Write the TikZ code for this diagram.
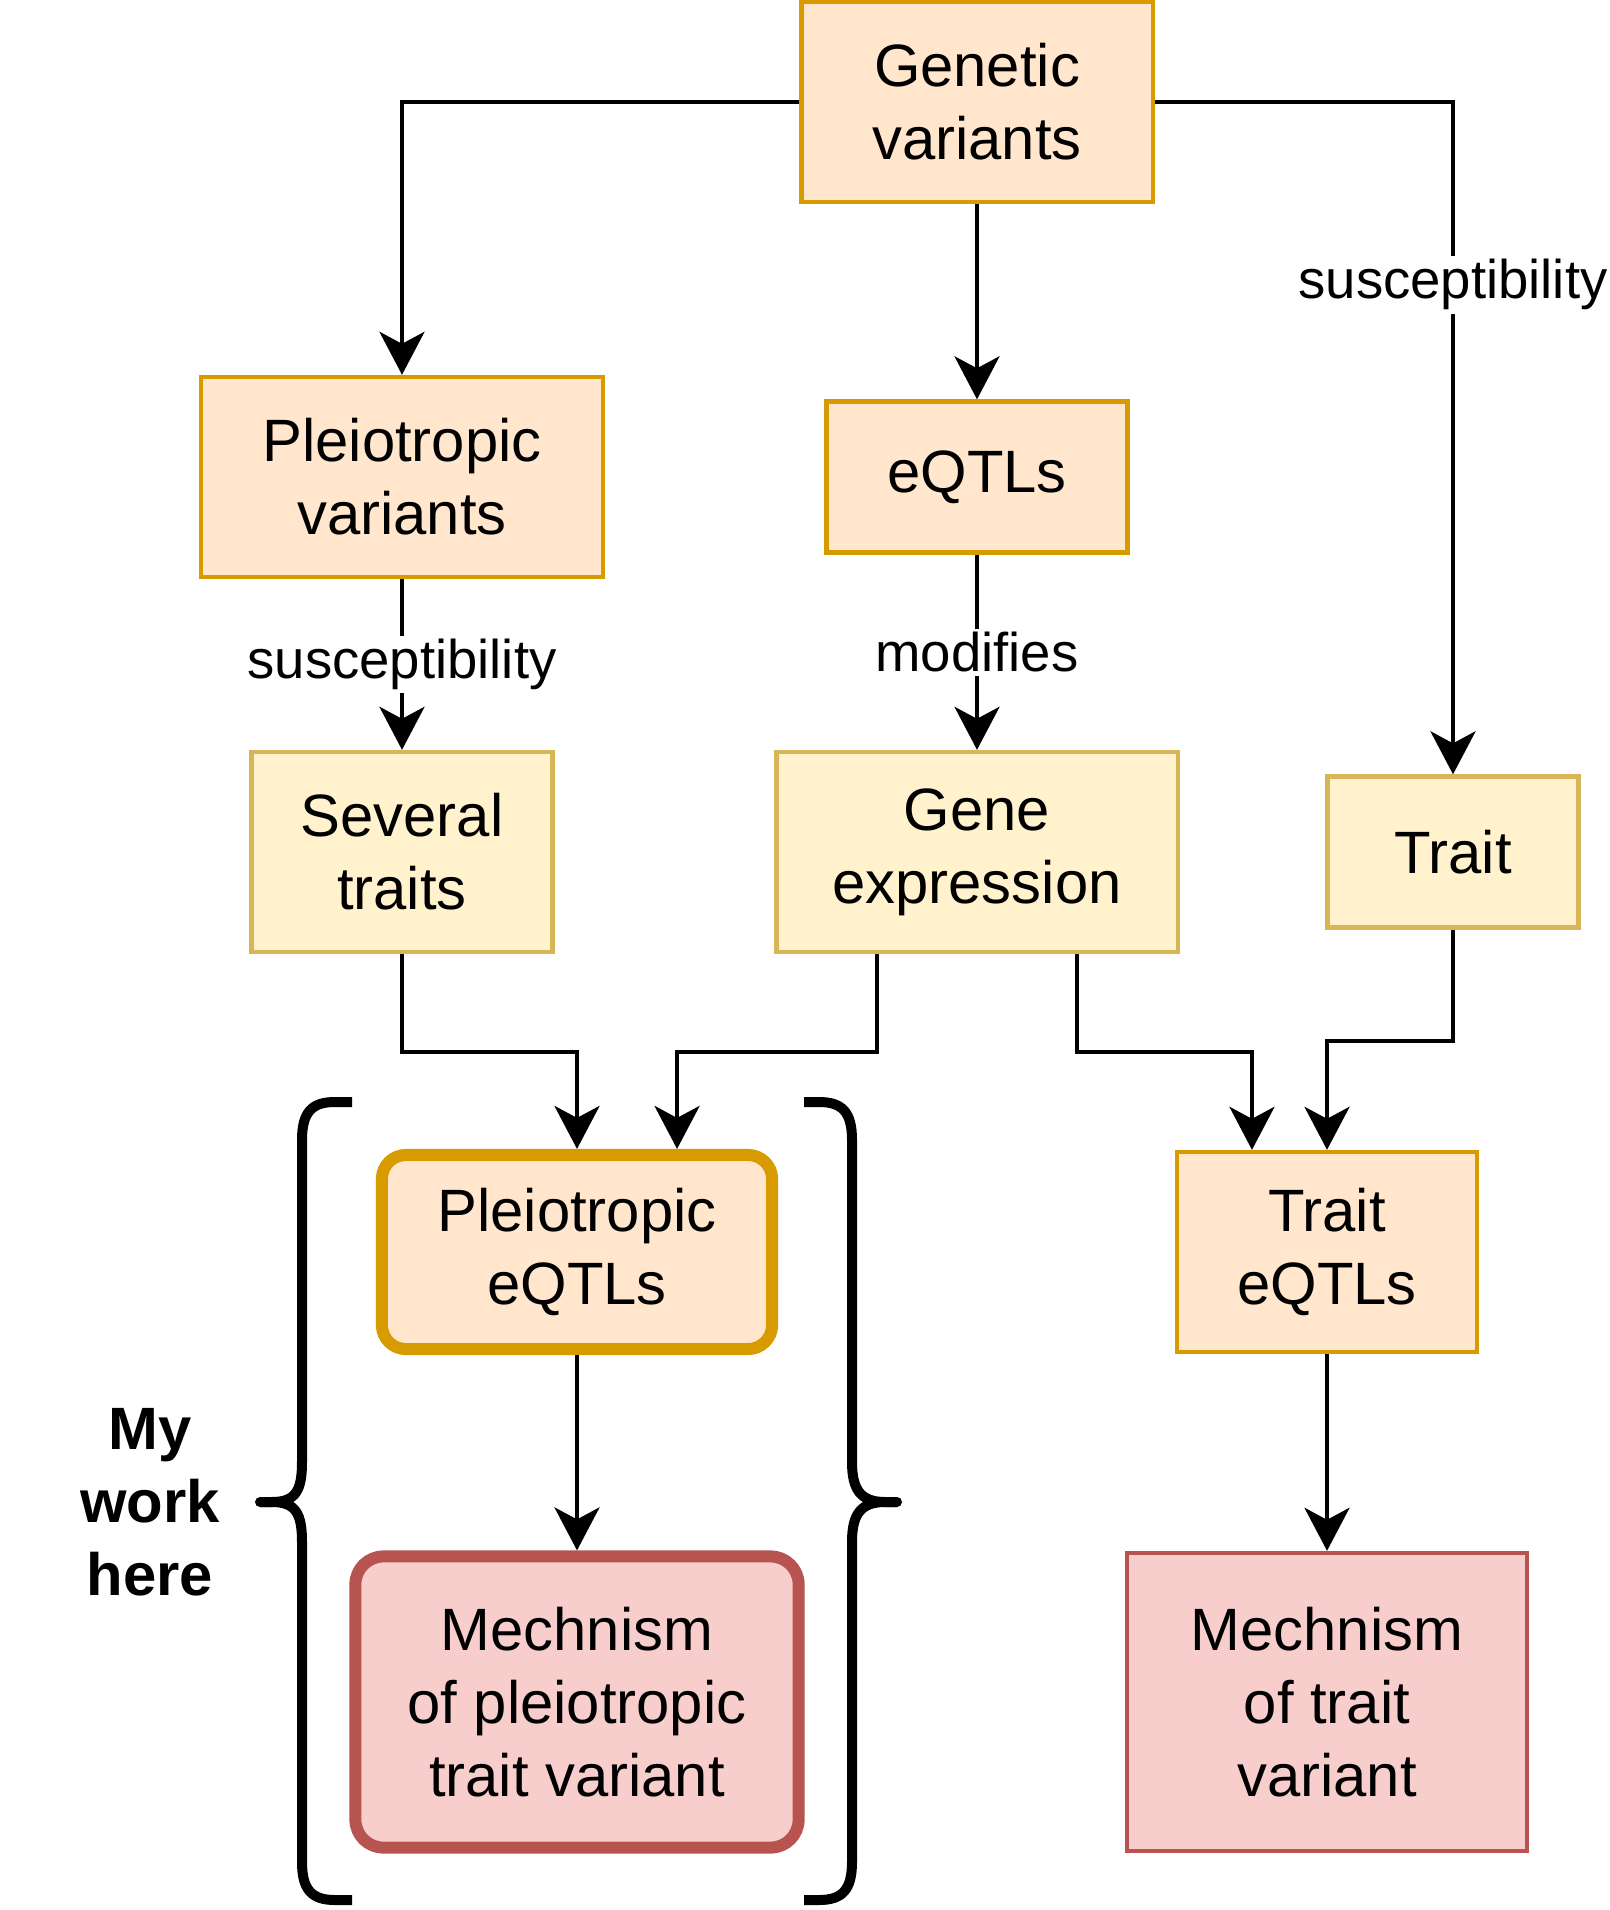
\documentclass[tikz,border=0pt]{standalone}
\usepackage{fontspec}
\setmainfont{Liberation Sans}
\usepackage{xcolor}
\usepackage{tikz}
\usetikzlibrary{arrows.meta}
\definecolor{orangefill}{HTML}{FFE6CC}
\definecolor{orangeline}{HTML}{D79B00}
\definecolor{yellowfill}{HTML}{FFF2CC}
\definecolor{yellowline}{HTML}{D6B656}
\definecolor{redfill}{HTML}{F8CECC}
\definecolor{redline}{HTML}{B85450}

\tikzset{
  box/.style={draw, line width=1.2pt, align=center, inner sep=0pt,
    font=\fontsize{17}{20.8}\selectfont},
  orangebox/.style={box, fill=orangefill, draw=orangeline},
  yellowbox/.style={box, fill=yellowfill, draw=yellowline},
  redbox/.style={box, fill=redfill, draw=redline},
  arr/.style={line width=1.1pt, -{Stealth[length=0.43cm, width=0.45cm, inset=0.12cm]}},
  lbl/.style={fill=white, inner sep=1pt, font=\fontsize{15.5}{18}\selectfont},
  curly/.style={line width=0.1cm}
}

\begin{document}
\begin{tikzpicture}[x=0.01cm, y=-0.01cm]
            \useasboundingbox (0,0) rectangle (1610,1910);

            % Boxes
            \node[orangebox, minimum width=3.51cm, minimum height=2cm] (gv) at (977,102) {Genetic\\variants};
            \node[orangebox, minimum width=4.01cm, minimum height=2cm] (pv) at (402,477) {Pleiotropic\\variants};
            \node[orangebox, minimum width=3.01cm, minimum height=1.51cm] (eqtl) at (977,477) {eQTLs};
            \node[yellowbox, minimum width=3.01cm, minimum height=2cm] (st) at (402,852) {Several\\traits};
            \node[yellowbox, minimum width=4.01cm, minimum height=2cm] (ge) at (977,852) {Gene\\expression};
            \node[yellowbox, minimum width=2.51cm, minimum height=1.51cm] (trait) at (1453,852) {Trait};
            \node[orangebox, line width=0.12cm, rounded corners=0.24cm, minimum width=3.9cm, minimum height=1.94cm] (pe) at (577,1252) {Pleiotropic\\eQTLs};
            \node[orangebox, minimum width=3cm, minimum height=2cm] (te) at (1327,1252) {Trait\\eQTLs};
            \node[redbox, line width=0.12cm, rounded corners=0.28cm, minimum width=4.43cm, minimum height=2.91cm] (mp) at (577,1702) {Mechnism\\of pleiotropic\\trait variant};
            \node[redbox, minimum width=4cm, minimum height=2.98cm] (mt) at (1327,1702) {Mechnism\\of trait\\variant};

            % Connectors
            \draw[arr] (gv.west) -| (pv.north);
            \draw[arr] (gv.east) -| node[lbl, pos=0.636] {susceptibility} (trait.north);
            \draw[arr] (gv) -- (eqtl);
            \draw[arr] (pv) -- node[lbl] {susceptibility} (st);
            \draw[arr] (eqtl) -- node[lbl] {modifies} (ge);
            \draw[arr] (st.south) -- ++(0,98) -| (pe.north);
            \draw[arr] ([xshift=-1cm]ge.south) -- ++(0,98) -| ([xshift=1cm]pe.north);
            \draw[arr] ([xshift=1cm]ge.south) -- ++(0,98) -| ([xshift=-0.75cm]te.north);
            \draw[arr] (trait.south) -- ++(0,111) -| (te.north);
            \draw[arr] (pe) -- (mp);
            \draw[arr] (te) -- (mt);

            % Braces
            \draw[curly] (260,1502) -- (272,1502) .. controls (296,1502) and (302,1490) .. (302,1462)
              -- (302,1140) .. controls (302,1112) and (312,1102) .. (335,1102) -- (352,1102);
            \draw[curly] (260,1502) -- (272,1502) .. controls (296,1502) and (302,1514) .. (302,1542)
              -- (302,1862) .. controls (302,1890) and (312,1900) .. (335,1900) -- (352,1900);
            \draw[curly] (897,1502) -- (885,1502) .. controls (861,1502) and (852,1490) .. (852,1462)
              -- (852,1140) .. controls (852,1112) and (842,1102) .. (819,1102) -- (804,1102);
            \draw[curly] (897,1502) -- (885,1502) .. controls (861,1502) and (852,1514) .. (852,1542)
              -- (852,1862) .. controls (852,1890) and (842,1900) .. (819,1900) -- (804,1900);
            \fill (260,1502) circle (0.05cm);
            \fill (897,1502) circle (0.05cm);

            % Text
            \node[align=center, font=\fontsize{17}{20.8}\selectfont\bfseries] (mywork) at (150,1502) {My\\work\\here};
        \end{tikzpicture}
\end{document}
